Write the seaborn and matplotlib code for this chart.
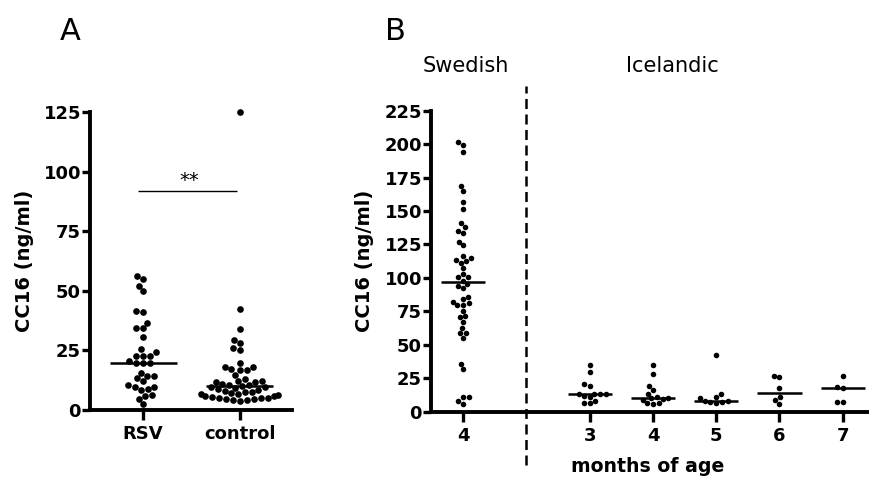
import numpy as np
import pandas as pd
import matplotlib
matplotlib.use("Agg")
import matplotlib.pyplot as plt
import seaborn as sns
from matplotlib.transforms import blended_transform_factory

# ---------------- data ----------------
groups_a = ["RSV", "control"]
rsv_values = [56.4, 54.9, 52.2, 50.1, 41.6, 40.9, 36.7, 34.3, 34.3, 30.5, 25.5, 24.5,
              22.8, 22.8, 22.8, 20.6, 19.9, 19.9, 19.9, 15.7, 14.4, 14.4, 13.3, 12.2,
              10.5, 9.8, 9.5, 8.8, 8.4, 6.3, 6.0, 4.6, 2.5]
control_values = [125.0, 42.4, 33.9, 29.4, 28.0, 25.9, 25.2, 19.9, 18.2, 17.9, 17.2, 16.8,
                  16.8, 14.7, 13.0, 12.3, 12.3, 11.9, 11.9, 10.9, 10.5, 10.3, 10.0, 9.8,
                  9.6, 9.2, 8.8, 8.4, 8.1, 7.7, 7.4, 7.0, 6.8, 6.6, 6.3, 6.0, 5.7, 5.4,
                  5.1, 5.0, 4.9, 4.7, 4.5, 4.4, 4.2, 3.9]
a_yticks = [0, 25, 50, 75, 100, 125]
signif_text = "**"

swedish_month = 4
swedish_values = [201.3, 199.3, 194.3, 168.7, 165.0, 156.7, 151.5, 140.8, 137.8, 135.3,
                  133.8, 127.1, 124.6, 116.4, 114.6, 113.4, 112.6, 110.9, 107.2, 102.9,
                  100.4, 100.4, 98.0, 95.2, 94.0, 92.2, 86.0, 84.0, 82.2, 81.5, 79.7,
                  79.7, 75.5, 71.5, 70.6, 67.3, 62.3, 59.0, 58.6, 55.3, 35.6, 31.7,
                  10.8, 10.8, 8.0, 5.8]
icelandic_months = [3, 4, 5, 6, 7]
ice_m3 = [34.9, 29.9, 20.7, 19.2, 13.2, 13.2, 13.2, 13.2, 12.0, 10.8, 8.2, 6.5, 6.3]
ice_m4 = [34.9, 28.2, 19.2, 15.9, 13.2, 11.0, 10.2, 10.0, 9.5, 9.0, 6.4, 6.2, 6.0]
ice_m5 = [42.4, 13.0, 11.2, 10.0, 8.0, 8.0, 7.5, 7.0, 6.5]
ice_m6 = [26.7, 26.0, 17.5, 10.8, 8.7, 5.8]
ice_m7 = [26.7, 18.7, 17.5, 7.5, 7.0]
b_yticks = [0, 25, 50, 75, 100, 125, 150, 175, 200, 225]

# ---------------- style ----------------
sns.set_style("ticks")
plt.rcParams["font.family"] = ["DejaVu Sans"]
plt.rcParams["axes.linewidth"] = 2.8
plt.rcParams["text.color"] = "black"
plt.rcParams["axes.labelcolor"] = "black"
plt.rcParams["axes.edgecolor"] = "black"
plt.rcParams["xtick.color"] = "black"
plt.rcParams["ytick.color"] = "black"

W, H = 869, 479
fig = plt.figure(figsize=(W / 100, H / 100), dpi=100)
axA = fig.add_axes([90 / W, 1 - 410 / H, 202 / W, 298 / H])
axB = fig.add_axes([431 / W, 1 - 411.7 / H, 437 / W, 301 / H])

def style_axis(ax, top):
    sns.despine(ax=ax)
    ax.spines["left"].set_bounds(0, top)
    ax.tick_params(axis="both", direction="out", length=5.5, width=2.4,
                   color="black", labelsize=13, labelcolor="black")
    ax.tick_params(axis="y", pad=1)
    ax.tick_params(axis="x", length=7, pad=4)
    for lab in ax.get_xticklabels() + ax.get_yticklabels():
        lab.set_fontweight("bold")
    ax.set_xlabel("")
    ax.set_ylabel("")
    ax.patch.set_alpha(0)

# ---------------- panel A ----------------
dfA = pd.DataFrame({
    "group": ["RSV"] * len(rsv_values) + ["control"] * len(control_values),
    "value": rsv_values + control_values,
})
sns.swarmplot(data=dfA, x="group", y="value", order=groups_a, color="black",
              size=4.8, linewidth=0, ax=axA, clip_on=False)
for i, g in enumerate(groups_a):
    med = np.median(dfA.loc[dfA["group"] == g, "value"])
    axA.hlines(med, i - 0.345, i + 0.345, color="black", lw=1.8, zorder=3)
axA.set_xlim(-0.55, 1.54)
axA.set_ylim(0, 125)
axA.set_yticks(a_yticks)
axA.set_xticks(range(len(groups_a)))
axA.set_xticklabels(groups_a)
style_axis(axA, 125)
axA.hlines(92, -0.05, 0.97, color="black", lw=1.0)
axA.text(0.48, 94, signif_text, ha="center", va="baseline", fontsize=14, color="black")

# ---------------- panel B ----------------
order_b = ["Swedish %d" % swedish_month, "gap"] + ["Icelandic %d" % m for m in icelandic_months]
ice_lists = [ice_m3, ice_m4, ice_m5, ice_m6, ice_m7]
rows = [(order_b[0], v) for v in swedish_values]
for m, vals in zip(icelandic_months, ice_lists):
    rows += [("Icelandic %d" % m, v) for v in vals]
dfB = pd.DataFrame(rows, columns=["group", "value"])
sns.swarmplot(data=dfB, x="group", y="value", order=order_b, color="black",
              size=4.0, linewidth=0, ax=axB, clip_on=False)
for i, g in enumerate(order_b):
    vals = dfB.loc[dfB["group"] == g, "value"]
    if len(vals):
        axB.hlines(np.median(vals), i - 0.35, i + 0.35, color="black", lw=1.8, zorder=3)
axB.set_xlim(-0.51, 6.4)
axB.set_ylim(0, 225)
axB.set_yticks(b_yticks)
tick_pos = [i for i, g in enumerate(order_b) if g != "gap"]
axB.set_xticks(tick_pos)
axB.set_xticklabels([str(swedish_month)] + [str(m) for m in icelandic_months])
style_axis(axB, 225)
gap_idx = order_b.index("gap")
trans = blended_transform_factory(axB.transData, axB.transAxes)
axB.plot([gap_idx, gap_idx], [-0.177, 1.082], transform=trans, color="black",
         lw=1.8, ls=(0, (4, 2.2)), clip_on=False)

# ---------------- texts ----------------
fig.text(70 / W, 1 - 32 / H, "A", ha="center", va="center", fontsize=22, color="black")
fig.text(395 / W, 1 - 31 / H, "B", ha="center", va="center", fontsize=22, color="black")
fig.text(466 / W, 1 - 66 / H, "Swedish", ha="center", va="center", fontsize=15, color="black")
fig.text(672 / W, 1 - 66 / H, "Icelandic", ha="center", va="center", fontsize=15, color="black")
fig.text(24 / W, 1 - 261 / H, "CC16 (ng/ml)", ha="center", va="center",
         rotation=90, fontsize=14, fontweight="bold", color="black")
fig.text(364 / W, 1 - 261 / H, "CC16 (ng/ml)", ha="center", va="center",
         rotation=90, fontsize=14, fontweight="bold", color="black")
fig.text(648 / W, 1 - 466 / H, "months of age", ha="center", va="center",
         fontsize=13.6, fontweight="bold", color="black")

fig.savefig("out.png", dpi=100)
